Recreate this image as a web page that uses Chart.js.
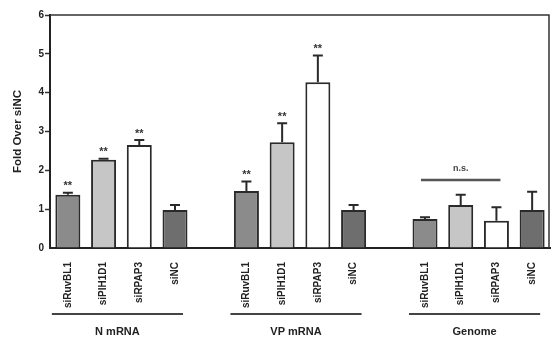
<!DOCTYPE html>
<html>
<head>
<meta charset="utf-8">
<script src="https://cdn.jsdelivr.net/npm/chart.js@4"></script>
<style>
html,body{margin:0;padding:0;background:#fff;}
#wrap{width:551px;height:344px;position:relative;}
</style>
</head>
<body>
<div id="wrap"><canvas id="c" width="551" height="344"></canvas></div>
<script>
// Category slots ('' = gap between groups)
const categories = ['siRuvBL1','siPIH1D1','siRPAP3','siNC','', 'siRuvBL1','siPIH1D1','siRPAP3','siNC','', 'siRuvBL1','siPIH1D1','siRPAP3','siNC'];
const values = [1.37, 2.27, 2.65, 0.98, null, 1.47, 2.72, 4.27, 0.98, null, 0.75, 1.11, 0.70, 0.98];
const errors = [0.05, 0.03, 0.13, 0.13, null, 0.24, 0.49, 0.69, 0.13, null, 0.04, 0.26, 0.35, 0.47];
const stars  = ['**','**','**','', '', '**','**','**','', '', '','','',''];
const barColors = ['#8b8b8b','#c6c6c6','#ffffff','#6e6e6e','#ffffff','#8b8b8b','#c6c6c6','#ffffff','#6e6e6e','#ffffff','#8b8b8b','#c6c6c6','#ffffff','#6e6e6e'];
const groups = [
  {label:'N mRNA', from:0, to:3},
  {label:'VP mRNA', from:5, to:8},
  {label:'Genome', from:10, to:13}
];
const nsBracket = {from:10, to:12, text:'n.s.'};
const yTicks = [0,1,2,3,4,5,6];

const FONT = '"Liberation Sans", Arial, sans-serif';

const annotations = {
  id:'annotations',
  afterDatasetsDraw(chart){
    const ctx = chart.ctx;
    const x = chart.scales.x, y = chart.scales.y;
    const ca = chart.chartArea;
    ctx.save();
    // error bars + stars
    values.forEach((v,i)=>{
      if(v==null) return;
      const cx = x.getPixelForValue(i);
      const yTop = y.getPixelForValue(v);
      const yErr = y.getPixelForValue(v + errors[i]);
      ctx.strokeStyle = '#2a2a2a';
      ctx.lineWidth = 2;
      ctx.beginPath();
      ctx.moveTo(cx, yTop); ctx.lineTo(cx, yErr);
      ctx.moveTo(cx-5, yErr); ctx.lineTo(cx+5, yErr);
      ctx.stroke();
      if(stars[i]){
        ctx.fillStyle = '#333';
        ctx.font = 'bold 11px ' + FONT;
        ctx.textAlign = 'center';
        ctx.textBaseline = 'bottom';
        ctx.fillText(stars[i], cx, yErr - 1);
      }
    });
    // n.s. bracket
    const x1 = x.getPixelForValue(nsBracket.from) - 4;
    const x2 = x.getPixelForValue(nsBracket.to) + 4;
    const yb = y.getPixelForValue(1.75);
    ctx.strokeStyle = '#555';
    ctx.lineWidth = 2.5;
    ctx.beginPath(); ctx.moveTo(x1,yb); ctx.lineTo(x2,yb); ctx.stroke();
    ctx.fillStyle = '#444';
    ctx.font = 'bold 9px ' + FONT;
    ctx.textAlign = 'center';
    ctx.textBaseline = 'bottom';
    ctx.fillText(nsBracket.text, (x1+x2)/2, yb - 7);
    // frame top and right
    ctx.strokeStyle = '#333';
    ctx.lineWidth = 1.5;
    ctx.beginPath();
    ctx.moveTo(ca.left, ca.top); ctx.lineTo(ca.right-1, ca.top); ctx.lineTo(ca.right-1, ca.bottom);
    ctx.stroke();
    // group lines + labels
    groups.forEach(g=>{
      const gx1 = x.getPixelForValue(g.from) - 16;
      const gx2 = x.getPixelForValue(g.to) + 8;
      ctx.strokeStyle = '#444';
      ctx.lineWidth = 2;
      ctx.beginPath(); ctx.moveTo(gx1, 314); ctx.lineTo(gx2, 314); ctx.stroke();
      ctx.fillStyle = '#222';
      ctx.font = 'bold 11px ' + FONT;
      ctx.textAlign = 'center';
      ctx.textBaseline = 'middle';
      ctx.fillText(g.label, (gx1+gx2)/2, 332);
    });
    ctx.restore();
  }
};

new Chart(document.getElementById('c'), {
  type:'bar',
  data:{
    labels:categories,
    datasets:[{
      data:values,
      backgroundColor:barColors,
      borderColor:'#2a2a2a',
      borderWidth:2,
      borderSkipped:'bottom',
      barPercentage:0.7,
      categoryPercentage:1.0
    }]
  },
  options:{
    responsive:false,
    animation:false,
    layout:{padding:{top:15,right:1,left:11,bottom:0}},
    plugins:{legend:{display:false},tooltip:{enabled:false}},
    scales:{
      x:{
        grid:{display:false, drawTicks:false},
        border:{color:'#222', width:2},
        ticks:{
          maxRotation:90, minRotation:90, padding:14, autoSkip:false,
          color:'#222', font:{family:FONT, size:10, weight:'bold'}
        },
        afterFit(s){ s.height = 96; s.paddingLeft = 0; s.paddingRight = 0; }
      },
      y:{
        min:0, max:6,
        afterBuildTicks(s){ s.ticks = yTicks.map(v=>({value:v})); },
        grid:{display:true, drawOnChartArea:false, tickLength:5, tickWidth:1.5,
              tickColor:(c)=> c.tick && c.tick.value===0 ? 'rgba(0,0,0,0)' : '#333'},
        border:{color:'#222', width:2},
        ticks:{padding:1, color:'#222', font:{family:FONT, size:10, weight:'bold'}},
        title:{display:true, text:'Fold Over siNC', color:'#222', font:{family:FONT, size:11.5, weight:'bold'}, padding:{top:0,bottom:4}},
        afterFit(s){ s.width = 39; s.paddingTop = 0; s.paddingBottom = 0; }
      }
    }
  },
  plugins:[annotations]
});
</script>
</body>
</html>
